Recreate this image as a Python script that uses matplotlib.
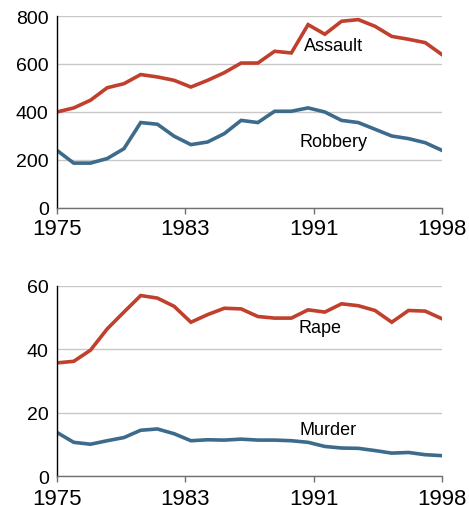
import matplotlib
matplotlib.use("Agg")
import matplotlib.pyplot as plt
import numpy as np

plt.rcParams["font.family"] = ["Liberation Sans", "DejaVu Sans"]

# Rates per 100,000, 1975-1998
years = np.arange(1975, 1999)

assault = [400, 417, 449, 501, 518, 556, 546, 532, 504, 532, 564, 604,
           604, 653, 646, 764, 724, 778, 785, 757, 715, 703, 689, 639]
robbery = [240, 187, 187, 206, 247, 356, 349, 299, 264, 275, 310, 365,
           356, 403, 403, 417, 400, 365, 356, 328, 300, 289, 272, 240]
rape = [35.7, 36.2, 39.7, 46.4, 51.7, 56.9, 56.1, 53.5, 48.5, 50.9, 52.9, 52.7,
        50.3, 49.8, 49.8, 52.4, 51.7, 54.3, 53.7, 52.2, 48.5, 52.2, 52.0, 49.6]
murder = [13.8, 10.7, 10.1, 11.2, 12.2, 14.5, 14.9, 13.4, 11.2, 11.5, 11.4, 11.7,
          11.4, 11.4, 11.2, 10.7, 9.4, 8.9, 8.8, 8.1, 7.3, 7.5, 6.8, 6.5]

tick_labels = ["1975", "1983", "1991", "1998"]

RED = "#c0402d"
BLUE = "#3d6b8c"

fig = plt.figure(figsize=(4.69, 5.06), dpi=100)
ax_top = fig.add_axes([0.1215, 0.587, 0.8209, 0.3794])
ax_bot = fig.add_axes([0.1215, 0.0567, 0.8209, 0.3767])


def style(ax, ymax, step, xpad):
    ax.set_xlim(years[0], years[-1])
    ax.set_ylim(0, ymax)
    ax.set_yticks(np.arange(0, ymax + step, step))
    ax.set_xticks(np.linspace(years[0], years[-1], 4))
    ax.set_xticklabels(tick_labels)
    ax.yaxis.grid(True, color="#c8c8c8", linewidth=1)
    ax.set_axisbelow(True)
    for s in ("top", "right"):
        ax.spines[s].set_visible(False)
    ax.spines["left"].set_color("black")
    ax.spines["left"].set_linewidth(1)
    ax.spines["bottom"].set_color("#707070")
    ax.spines["bottom"].set_linewidth(1)
    ax.tick_params(axis="y", length=0, pad=6, labelsize=14)
    ax.tick_params(axis="x", length=4, width=1, color="#707070", pad=xpad, labelsize=16)


style(ax_top, 800, 200, 3)
ax_top.plot(years, assault, color=RED, linewidth=2.6, solid_joinstyle="miter")
ax_top.plot(years, robbery, color=BLUE, linewidth=2.6, solid_joinstyle="miter")
ax_top.text(1991.5, 679, "Assault", fontsize=13, ha="center", va="center")
ax_top.text(1991.5, 279, "Robbery", fontsize=13, ha="center", va="center")

style(ax_bot, 60, 20, 4.5)
ax_bot.plot(years, rape, color=RED, linewidth=2.6, solid_joinstyle="miter")
ax_bot.plot(years, murder, color=BLUE, linewidth=2.6, solid_joinstyle="miter")
ax_bot.text(1990.7, 46.7, "Rape", fontsize=13, ha="center", va="center")
ax_bot.text(1991.2, 14.8, "Murder", fontsize=13, ha="center", va="center")

fig.savefig("out.png", dpi=100)
